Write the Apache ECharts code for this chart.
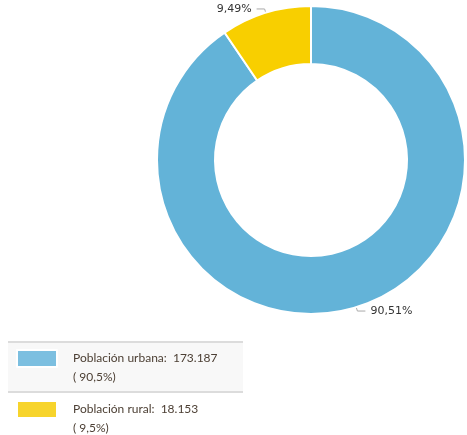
<!DOCTYPE html>
<html>
<head>
<meta charset="utf-8">
<script src="https://cdn.jsdelivr.net/npm/echarts@6/dist/echarts.min.js"></script>
<style>
  html, body { margin: 0; padding: 0; background: #fff; }
  #donutChart { width: 467px; height: 435px; }
</style>
</head>
<body>
<div id="donutChart"></div>
<script>
// datos de población
var categorias = ['Población urbana', 'Población rural'];
var valores = [173187, 18153];
var porcentajes = ['90,51%', '9,49%'];
var porcentajesLeyenda = ['90,5%', '9,5%'];
var colores = ['#63b3d8', '#f8cf00'];
var coloresLeyenda = ['#7cbfe0', '#f7d42c'];

function formatoMiles(n) {
  return String(n).replace(/\B(?=(\d{3})+(?!\d))/g, '.');
}

var donutChart = echarts.init(document.getElementById('donutChart'));

var datos = categorias.map(function (c, i) {
  return { name: c, value: valores[i], itemStyle: { color: colores[i] } };
});

option = {
  animation: false,
  // fondo y líneas de la leyenda
  graphic: [
    { type: 'rect', shape: { x: 8, y: 342, width: 235, height: 50 }, style: { fill: '#f8f8f8' }, z: -1 },
    { type: 'line', shape: { x1: 8, y1: 342, x2: 243, y2: 342 }, style: { stroke: '#dcdcdc', lineWidth: 2 } },
    { type: 'line', shape: { x1: 8, y1: 392, x2: 243, y2: 392 }, style: { stroke: '#dcdcdc', lineWidth: 2 } }
  ],
  legend: {
    orient: 'vertical',
    left: 11,
    top: 325,
    height: 140,
    icon: 'rect',
    itemWidth: 40,
    itemHeight: 17,
    itemGap: -6,
    selectedMode: false,
    data: categorias.map(function (c, i) {
      return { name: c, itemStyle: { color: coloresLeyenda[i] } };
    }),
    // línea vacía arriba para que el texto quede alineado con el icono
    formatter: function (name) {
      var i = categorias.indexOf(name);
      return ' \n' + name + ':  ' + formatoMiles(valores[i]) + '\n( ' + porcentajesLeyenda[i] + ')';
    },
    textStyle: {
      fontFamily: 'Lato',
      fontSize: 12,
      color: '#4d4035',
      lineHeight: 19,
      padding: [0, 0, 0, 11]
    }
  },
  series: [
    {
      name: 'Población',
      type: 'pie',
      center: [311, 160],
      radius: [96, 154],
      startAngle: 90,
      clockwise: true,
      itemStyle: { borderColor: '#fff', borderWidth: 2 },
      label: {
        show: true,
        position: 'outside',
        fontFamily: 'DejaVu Sans',
        fontSize: 11,
        color: '#333',
        formatter: function (p) { return porcentajes[p.dataIndex]; }
      },
      labelLine: {
        show: true,
        length: 4,
        length2: 8,
        lineStyle: { color: '#aaa', width: 1 }
      },
      emphasis: { disabled: true },
      data: datos
    }
  ]
};

donutChart.setOption(option);
</script>
</body>
</html>
